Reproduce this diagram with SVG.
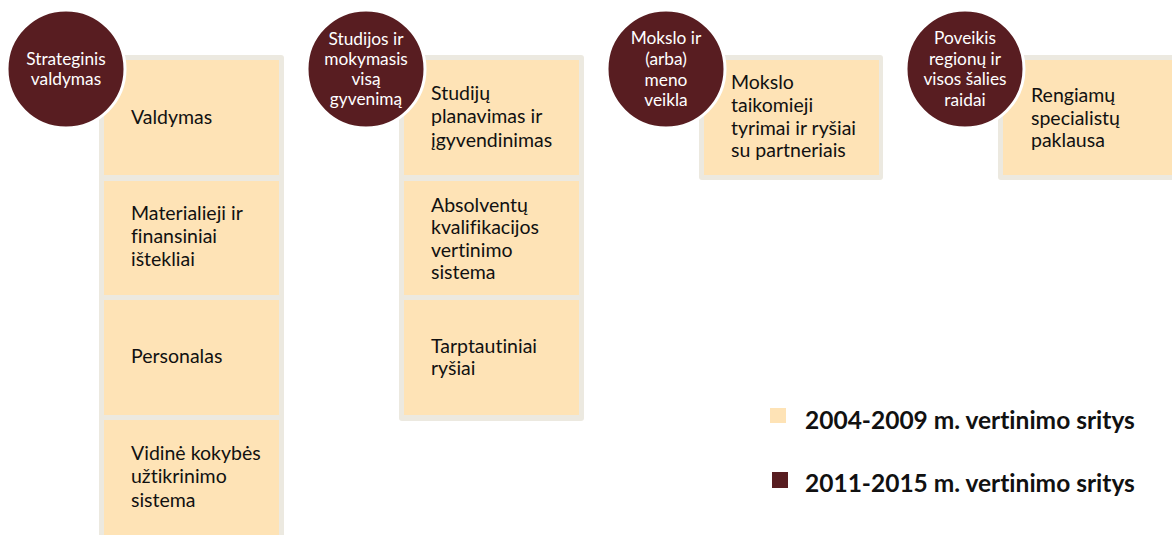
<svg xmlns="http://www.w3.org/2000/svg" width="1172" height="535" viewBox="0 0 1172 535">
<style>
.frame{fill:#ECE9E0}
.box{fill:#FEE3B6}
.circ{fill:#581D21;stroke:#FFFFFF;stroke-width:3}
text{font-variant-ligatures:none}
.bt{font-family:Lato,"Open Sans","Liberation Sans",sans-serif;font-size:19.5px;fill:#111111}
.ct{font-family:Lato,"Open Sans","Liberation Sans",sans-serif;font-size:17.3px;fill:#FFFFFF;text-anchor:middle}
.lt{font-family:Lato,"Open Sans","Liberation Sans",sans-serif;font-size:24.5px;font-weight:bold;fill:#111111}
</style>
<rect width="1172" height="535" fill="#FFFFFF"/>
<g id="connectors"/>
<g id="col1">
<rect class="frame" x="99" y="55" width="185" height="490" rx="3"/>
<rect class="box" x="104" y="60" width="175" height="115"/>
<rect class="box" x="104" y="181" width="175" height="114"/>
<rect class="box" x="104" y="300" width="175" height="115"/>
<rect class="box" x="104" y="420" width="175" height="120"/>
<text class="bt" x="131" y="124">Valdymas</text>
<text class="bt" x="131" y="220">Materialieji ir</text>
<text class="bt" x="131" y="243">finansiniai</text>
<text class="bt" x="131" y="266">ištekliai</text>
<text class="bt" x="131" y="363">Personalas</text>
<text class="bt" x="131" y="460">Vidinė kokybės</text>
<text class="bt" x="131" y="483">užtikrinimo</text>
<text class="bt" x="131" y="507">sistema</text>
</g>
<g id="circle1">
<circle class="circ" cx="66" cy="69" r="59"/>
<text class="ct" x="66" y="65">Strateginis</text>
<text class="ct" x="66" y="85">valdymas</text>
</g>
<g id="col2">
<rect class="frame" x="399" y="55" width="185" height="366" rx="3"/>
<rect class="box" x="404" y="60" width="175" height="115"/>
<rect class="box" x="404" y="181" width="175" height="114"/>
<rect class="box" x="404" y="300" width="175" height="115"/>
<text class="bt" x="431" y="100">Studijų</text>
<text class="bt" x="431" y="123">planavimas ir</text>
<text class="bt" x="431" y="147">įgyvendinimas</text>
<text class="bt" x="431" y="212">Absolventų</text>
<text class="bt" x="431" y="234">kvalifikacijos</text>
<text class="bt" x="431" y="257">vertinimo</text>
<text class="bt" x="431" y="279">sistema</text>
<text class="bt" x="431" y="353">Tarptautiniai</text>
<text class="bt" x="431" y="375">ryšiai</text>
</g>
<g id="circle2">
<circle class="circ" cx="366" cy="69" r="59"/>
<text class="ct" x="366" y="45">Studijos ir</text>
<text class="ct" x="366" y="65">mokymasis</text>
<text class="ct" x="366" y="85">visą</text>
<text class="ct" x="366" y="105">gyvenimą</text>
</g>
<g id="col3">
<rect class="frame" x="699" y="55" width="184" height="125" rx="3"/>
<rect class="box" x="704" y="60" width="175" height="115"/>
<text class="bt" x="731" y="89">Mokslo</text>
<text class="bt" x="731" y="112">taikomieji</text>
<text class="bt" x="731" y="135">tyrimai ir ryšiai</text>
<text class="bt" x="731" y="157">su partneriais</text>
</g>
<g id="circle3">
<circle class="circ" cx="666" cy="69" r="59"/>
<text class="ct" x="666" y="44">Mokslo ir</text>
<text class="ct" x="666" y="65">(arba)</text>
<text class="ct" x="666" y="86">meno</text>
<text class="ct" x="666" y="106">veikla</text>
</g>
<g id="col4">
<rect class="frame" x="998" y="55" width="190" height="125" rx="3"/>
<rect class="box" x="1003" y="60" width="180" height="115"/>
<text class="bt" x="1031" y="102">Rengiamų</text>
<text class="bt" x="1031" y="125">specialistų</text>
<text class="bt" x="1031" y="147">paklausa</text>
</g>
<g id="circle4">
<circle class="circ" cx="965" cy="69" r="59"/>
<text class="ct" x="965" y="44">Poveikis</text>
<text class="ct" x="965" y="65">regionų ir</text>
<text class="ct" x="965" y="85">visos šalies</text>
<text class="ct" x="965" y="106">raidai</text>
</g>
<g id="legend">
<rect x="770" y="408" width="16" height="15" fill="#FEE3B6"/>
<text class="lt" x="805" y="429">2004-2009 m. vertinimo sritys</text>
<rect x="772" y="472" width="16" height="16" fill="#581D21"/>
<text class="lt" x="805" y="492">2011-2015 m. vertinimo sritys</text>
</g>
</svg>
